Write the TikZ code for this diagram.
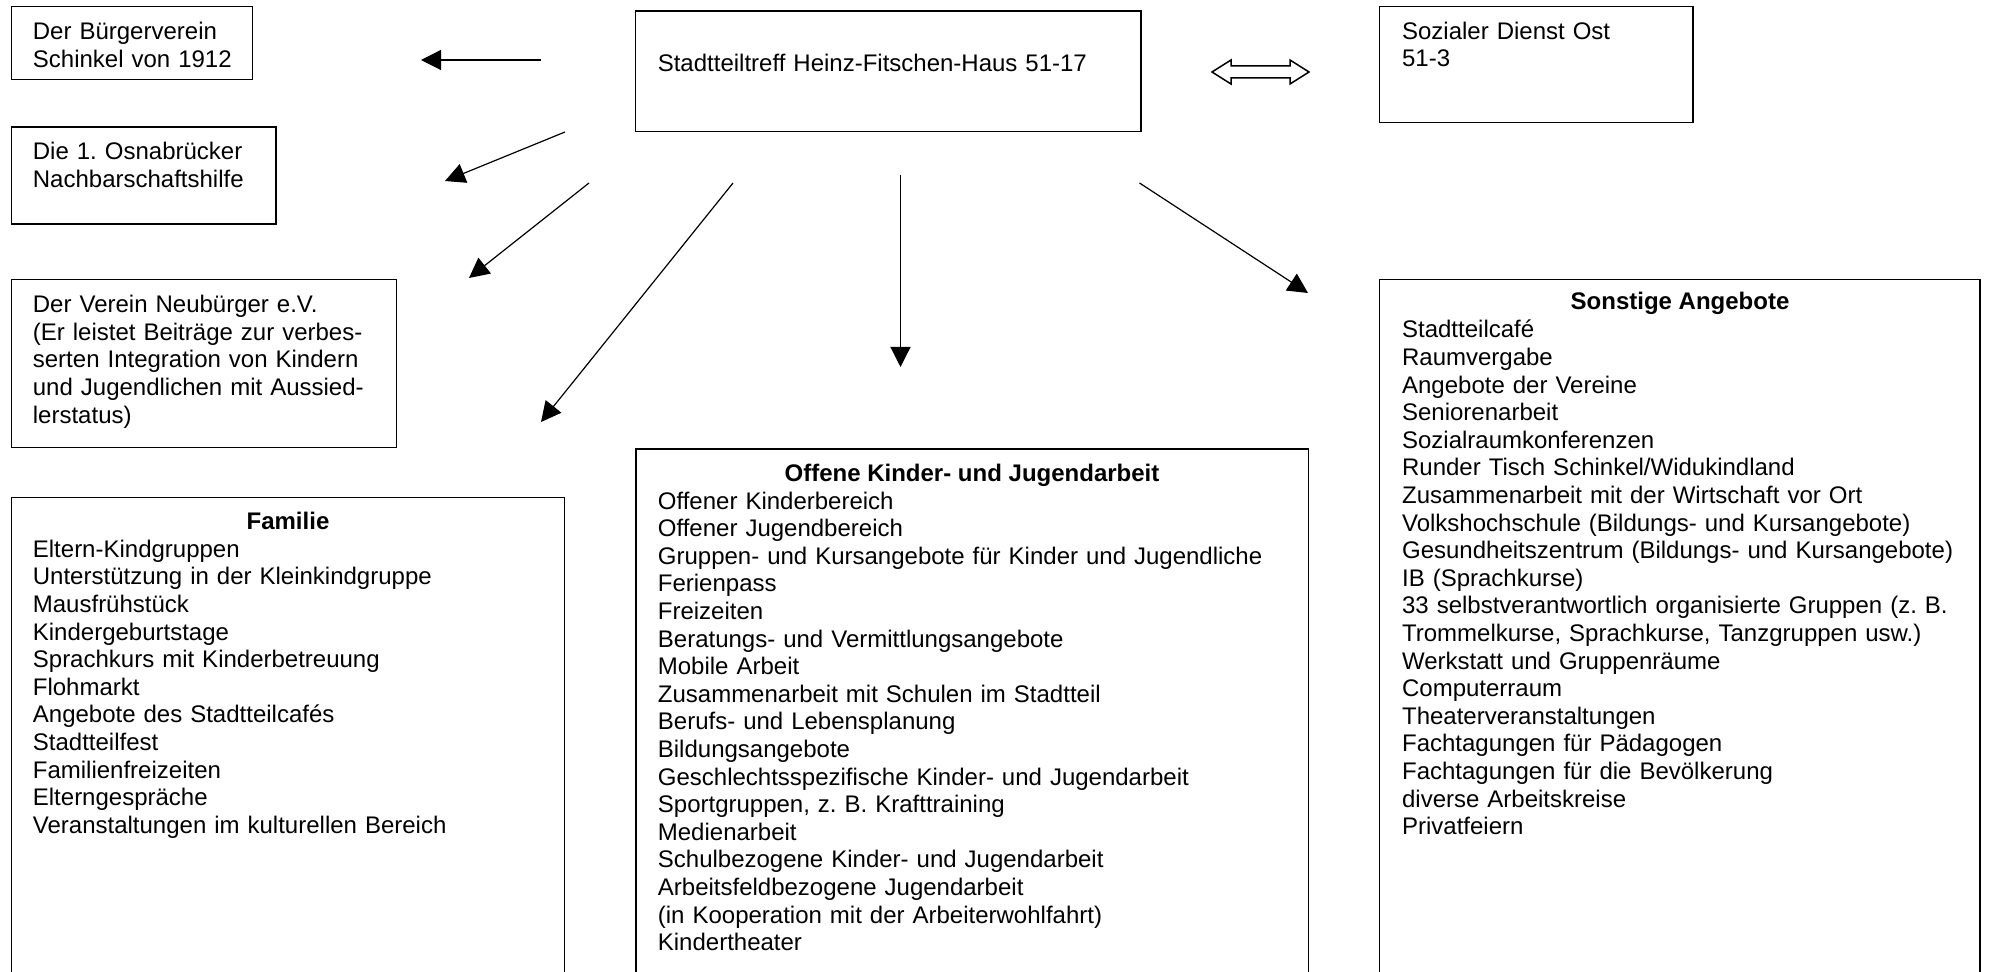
\documentclass[tikz,border=0pt]{standalone}
\usepackage{fontspec}
\setmainfont{Liberation Sans}
\usetikzlibrary{arrows.meta,fit}
\frenchspacing
\tikzset{
  box/.style={draw, line width=0.75pt, inner sep=0pt},
  conn/.style={line width=0.6pt, -{Triangle[length=10pt,width=10pt]}},
  txt/.style={inner sep=0pt, anchor=base west, align=left, text width=420pt,
    font=\fontsize{12}{13.8}\selectfont\frenchspacing},
  ttl/.style={inner sep=0pt, anchor=base, font=\fontsize{12}{13.8}\selectfont\bfseries},
}
\begin{document}
\begin{tikzpicture}[x=0.5pt, y=-0.5pt]
\clip (0,0) rectangle (1991,972);
\fill[white] (0,0) rectangle (1991,972);

% boxes
\node[box, fit={(11.5,6.7) (252.6,79.3)}] (bA) {};
\node[box, fit={(11.5,127) (276,224)}] (bB) {};
\node[box, fit={(11.5,279.3) (396.5,447.7)}] (bC) {};
\node[box, fit={(11.5,497.7) (564.5,1000)}] (bFam) {};
\node[box, fit={(635.6,11) (1140.8,131.7)}] (bMain) {};
\node[box, fit={(1379.5,6.7) (1693,122.7)}] (bSoz) {};
\node[box, fit={(636,449) (1308.3,1000)}] (bOff) {};
\node[box, fit={(1379.5,279.3) (1980,1000)}] (bSon) {};

% texts
\node[txt] (tA) at (32.5,40) {Der Bürgerverein\\Schinkel von 1912};
\node[txt] (tB) at (32.5,160) {Die 1. Osnabrücker\\Nachbarschaftshilfe};
\node[txt] (tC) at (32.5,312.7) {Der Verein Neubürger e.V.\\(Er leistet Beiträge zur verbes-\\serten Integration von Kindern\\und Jugendlichen mit Aussied-\\lerstatus)};
\node[txt] (tMain) at (657.4,71.7) {Stadtteiltreff Heinz-Fitschen-Haus 51-17};
\node[txt] (tSoz) at (1401.7,39.3) {Sozialer Dienst Ost\\51-3};

\node[ttl] (hFam) at (288,529.3) {Familie};
\node[txt] (tFam) at (32.5,557.3) {Eltern-Kindgruppen\\Unterstützung in der Kleinkindgruppe\\Mausfrühstück\\Kindergeburtstage\\Sprachkurs mit Kinderbetreuung\\Flohmarkt\\Angebote des Stadtteilcafés\\Stadtteilfest\\Familienfreizeiten\\Elterngespräche\\Veranstaltungen im kulturellen Bereich};

\node[ttl] (hOff) at (972,481.7) {Offene Kinder- und Jugendarbeit};
\node[txt] (tOff) at (657.5,509.2) {Offener Kinderbereich\\Offener Jugendbereich\\Gruppen- und Kursangebote für Kinder und Jugendliche\\Ferienpass\\Freizeiten\\Beratungs- und Vermittlungsangebote\\Mobile Arbeit\\Zusammenarbeit mit Schulen im Stadtteil\\Berufs- und Lebensplanung\\Bildungsangebote\\Geschlechtsspezifische Kinder- und Jugendarbeit\\Sportgruppen, z. B. Krafttraining\\Medienarbeit\\Schulbezogene Kinder- und Jugendarbeit\\Arbeitsfeldbezogene Jugendarbeit\\(in Kooperation mit der Arbeiterwohlfahrt)\\Kindertheater};

\node[ttl] (hSon) at (1680,310) {Sonstige Angebote};
\node[txt] (tSon) at (1401.7,338) {Stadtteilcafé\\Raumvergabe\\Angebote der Vereine\\Seniorenarbeit\\Sozialraumkonferenzen\\Runder Tisch Schinkel/Widukindland\\Zusammenarbeit mit der Wirtschaft vor Ort\\Volkshochschule (Bildungs- und Kursangebote)\\Gesundheitszentrum (Bildungs- und Kursangebote)\\IB (Sprachkurse)\\33 selbstverantwortlich organisierte Gruppen (z. B.\\Trommelkurse, Sprachkurse, Tanzgruppen usw.)\\Werkstatt und Gruppenräume\\Computerraum\\Theaterveranstaltungen\\Fachtagungen für Pädagogen\\Fachtagungen für die Bevölkerung\\diverse Arbeitskreise\\Privatfeiern};

% connector end points
\coordinate (s1) at (541,60);   \coordinate (e1) at (421,60);
\coordinate (s2) at (565,132);  \coordinate (e2) at (445,181);
\coordinate (s3) at (589,183);  \coordinate (e3) at (469,278);
\coordinate (s4) at (733,183);  \coordinate (e4) at (541,422);
\coordinate (s5) at (900.5,175); \coordinate (e5) at (900.5,367);
\coordinate (s6) at (1139.5,183); \coordinate (e6) at (1308,293);

\draw[conn] (s1) -- (e1);
\draw[conn] (s2) -- (e2);
\draw[conn] (s3) -- (e3);
\draw[conn] (s4) -- (e4);
\draw[conn] (s5) -- (e5);
\draw[conn] (s6) -- (e6);

% hollow double arrow between main box and Sozialer Dienst
\coordinate (dL) at (1212,72);
\coordinate (dR) at (1309,72);
\draw[line width=0.75pt, line join=miter, fill=white]
  (dL) -- ++(19,-12) -- ++(0,6) -- ++(59,0) -- ++(0,-6) -- (dR)
  -- ++(-19,12) -- ++(0,-6) -- ++(-59,0) -- ++(0,6) -- cycle;
\end{tikzpicture}
\end{document}
